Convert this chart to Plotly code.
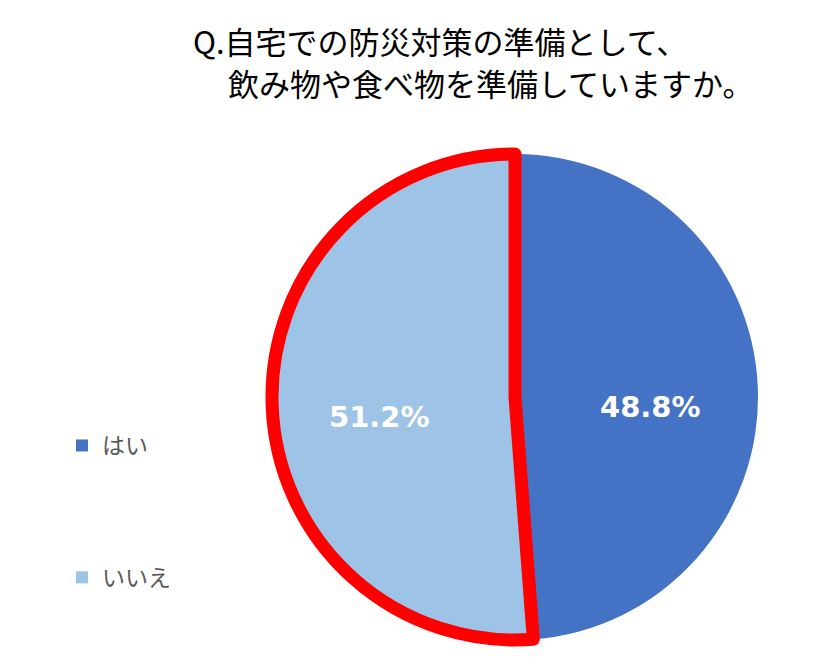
import math
import plotly.graph_objects as go

labels = ["はい", "いいえ"]
values = [48.8, 51.2]
colors = ["#4472C4", "#9DC3E6"]
title_lines = ["Q.自宅での防災対策の準備として、", "飲み物や食べ物を準備していますか。"]

FONT = "Noto Sans CJK JP, Meiryo, sans-serif"
W, H = 840, 666
OFF = 8  # browser body margin


def px(xs):
    return (xs - OFF) / W


def py(ys):
    return 1 - (ys - OFF) / H


# pie geometry (screen px)
X0, X1, Y0, Y1 = 272, 758, 154, 640
CX, CY, R = (X0 + X1) / 2, (Y0 + Y1) / 2, (X1 - X0) / 2

fig = go.Figure()
fig.add_trace(go.Pie(
    labels=labels, values=values, sort=False, direction="clockwise", rotation=0,
    marker=dict(colors=colors, line=dict(color=["rgba(0,0,0,0)", "#FF0000"], width=[0, 13])),
    textinfo="none",
    domain=dict(x=[px(X0), px(X1)], y=[py(Y1), py(Y0)]),
    showlegend=False, hoverinfo="label+percent",
))

# percentage labels placed at each slice's mid-angle
total = sum(values)
cum = 0.0
for v in values:
    mid = (cum + v / 2) / total * 2 * math.pi
    cum += v
    lx = CX + 0.56 * R * math.sin(mid)
    ly = CY - 0.56 * R * math.cos(mid) + 15
    fig.add_annotation(text=f"{v / total * 100:.1f}%", x=px(lx), y=py(ly), xref="paper", yref="paper",
                       xanchor="center", yanchor="middle", showarrow=False,
                       font=dict(color="white", size=29, family="DejaVu Sans, Verdana, sans-serif",
                                 weight="bold"))

for lab, col in zip(labels, colors):
    fig.add_trace(go.Scatter(
        x=[None], y=[None], mode="markers", name=lab, legendgroup=lab,
        marker=dict(symbol="square", size=15, color=col), showlegend=True,
    ))

fig.add_annotation(text=title_lines[0], x=px(191), y=py(40), xref="paper", yref="paper",
                   xanchor="left", yanchor="middle", showarrow=False,
                   font=dict(family=FONT, size=31, color="#000000"))
fig.add_annotation(text=title_lines[1], x=px(226), y=py(83), xref="paper", yref="paper",
                   xanchor="left", yanchor="middle", showarrow=False,
                   font=dict(family=FONT, size=31, color="#000000"))

fig.update_layout(
    width=W, height=H, margin=dict(l=0, r=0, t=0, b=0),
    paper_bgcolor="white", plot_bgcolor="white",
    xaxis=dict(visible=False), yaxis=dict(visible=False),
    legend=dict(x=px(62), y=py(424), xanchor="left", yanchor="top",
                font=dict(family=FONT, size=23, color="#595959"),
                tracegroupgap=99, itemsizing="constant"),
)
fig.write_html("out.html")
